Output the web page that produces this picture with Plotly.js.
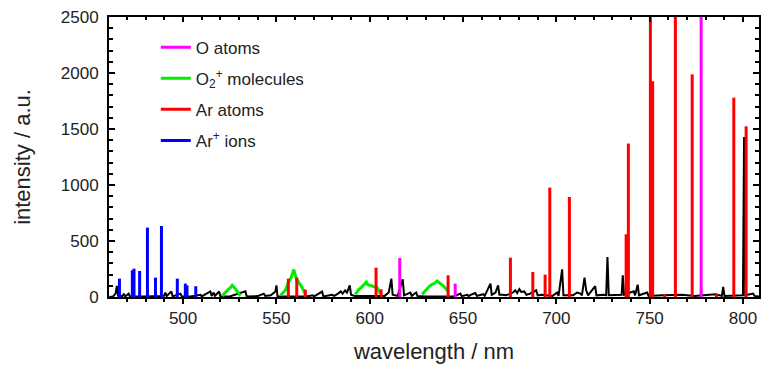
<!DOCTYPE html>
<html><head><meta charset="utf-8">
<script src="https://cdn.plot.ly/plotly-3.0.1.min.js"></script>
<style>html,body{margin:0;padding:0;background:#fff}#chart{width:761px;height:372px}</style>
</head><body><div id="chart"></div>
<script>
// ---- data ----
// Background (unassigned) spectrum, black
const blackX = [460.5,462.5,463.8,464.5,465.2,467.5,468.2,469.0,470.8,471.5,478,486,489.8,490.5,491.2,493.7,494.4,498.6,499.3,504,509.3,510,514.6,515.3,516.4,517.1,519.3,520,525,533.4,534.1,540,541.5,543.2,544,547,549.5,550.0,550.6,566,569.5,570.2,574.5,575.2,579.8,581,583,584.5,585.5,586.8,587.8,589.3,590,592,600,608,610.2,611.6,612.3,615,617.7,618.4,621.8,622.5,624.9,625.6,630,645,648.6,649.3,652.2,653,654.9,656.6,657.4,660.8,661.6,664.7,665.4,667.4,668.8,669.5,670.9,673,676.8,678,679,680.2,681.2,682.8,684,686,689.2,690,692.4,695,698,700.4,701.2,703.1,703.8,709,711.1,712.9,713.7,715.1,716,717,720.8,721.5,724.5,725.4,726.7,727.4,728.1,732,735,735.6,736.3,741.5,742.2,743.6,744.3,748.7,749.4,756.7,762.9,767.4,774,779.9,785.3,788.7,789.4,790.1,795,800.0,800.6,801.2,805.5,806.2,808.6];
const blackY = [0,5,30,100,10,8,30,5,30,5,5,8,10,40,8,50,5,30,5,5,20,5,50,10,40,10,50,5,5,50,5,8,20,30,10,15,50,104,5,5,15,5,48,5,20,10,30,50,30,60,40,104,20,10,10,10,40,164,20,10,158,15,40,10,40,8,5,5,30,8,20,8,25,35,10,25,10,120,20,40,104,20,20,15,40,60,35,70,45,50,20,30,60,15,20,15,10,40,10,247,15,15,40,30,15,173,60,15,98,15,20,20,15,357,15,15,20,194,20,50,15,110,15,40,10,15,20,20,10,20,25,10,90,10,10,15,1429,15,30,10,5];

// O atoms (magenta)
const oAtomWl = [616.1, 645.8, 777.6];
const oAtomI  = [348, 120, 4000];

// O2+ molecular bands (green), segments separated by null
const o2X = [520.9,522.2,523.0,524.4,525.2,526.3,527.2,528.0,528.8,529.3,530.7,null,
             552.3,554.8,556.6,557.9,559.3,560.7,561.9,562.8,563.8,565.5,null,
             592.3,594.1,595.2,596.5,598.2,599.0,600.0,601.0,602.1,603.9,605.7,null,
             628.1,630.8,632.0,633.4,634.5,636.1,637.9,638.6,639.7,642.3];
const o2Y = [10,35,50,70,80,104,90,75,60,45,10,null,
             15,60,134,173,245,164,134,110,84,24,null,
             24,66,80,104,134,110,104,100,96,84,30,null,
             24,75,95,113,120,143,120,115,96,45];

// Ar atoms (red)
const arAtomWl = [556.4,560.9,565.5,603.4,606.1,642.0,675.4,687.4,694.0,696.5,707.0,737.4,738.6,750.4,751.6,758.1,763.8,772.8,785.8,795.1,801.7];
const arAtomI  = [164,173,66,262,69,194,351,223,200,977,893,560,1370,5000,1926,25,4500,1988,25,1780,1524];

// Ar+ ions (blue)
const arIonWl = [465.9,472.8,473.7,476.7,480.9,485.2,488.4,496.9,501.2,502.1,506.8];
const arIonI  = [164,238,253,232,620,173,634,164,120,104,96];

const legendNames = ['O atoms','O<sub>2</sub><sup>+</sup> molecules','Ar atoms','Ar<sup>+</sup> ions'];

// ---- build stick traces ----
function sticks(wl, inten){
  const x=[], y=[];
  for(let i=0;i<wl.length;i++){ x.push(wl[i],wl[i],null); y.push(0,inten[i],null); }
  return {x, y};
}
const sO = sticks(oAtomWl,oAtomI), sAr = sticks(arAtomWl,arAtomI), sArI = sticks(arIonWl,arIonI);

const XR = [460.3, 808.6];
const FONT = 'Liberation Sans, Arial, sans-serif';

const traces = [
  {x:blackX, y:blackY, mode:'lines', line:{color:'#000', width:2}, showlegend:false, hoverinfo:'skip'},
  {x:o2X, y:o2Y, mode:'lines', name:legendNames[1], legendgroup:'g2', legendrank:2, line:{color:'#00ee00', width:3}, connectgaps:false},
  {x:sArI.x, y:sArI.y, mode:'lines', name:legendNames[3], legendgroup:'g4', legendrank:4, line:{color:'#0000ff', width:3}},
  {x:sAr.x, y:sAr.y, mode:'lines', name:legendNames[2], legendgroup:'g3', legendrank:3, line:{color:'#ff0000', width:3}},
  {x:sO.x, y:sO.y, mode:'lines', name:legendNames[0], legendgroup:'g1', legendrank:1, line:{color:'#ff00ff', width:3}},
  {x:[null], y:[null], xaxis:'x2', mode:'lines', showlegend:false, hoverinfo:'skip'}
];

const layout = {
  width:761, height:372,
  margin:{l:109, r:2, t:17, b:75},
  paper_bgcolor:'#fff', plot_bgcolor:'#fff',
  font:{family:FONT, size:17, color:'#222'},
  showlegend:true,
  legend:{x:0.072, y:0.955, xanchor:'left', yanchor:'top', bgcolor:'rgba(0,0,0,0)',
          font:{family:FONT, size:17, color:'#222'}, tracegroupgap:6, traceorder:'grouped'},
  xaxis:{range:XR, showline:true, linewidth:2, linecolor:'#000', mirror:false,
         ticks:'outside', ticklen:5, tickwidth:2, tickcolor:'#000', dtick:50, tick0:500,
         minor:{dtick:10, ticklen:3, tickwidth:2, tickcolor:'#000', ticks:'outside'},
         showgrid:false, zeroline:false, tickfont:{family:FONT,size:17,color:'#222'},
         title:{text:'wavelength / nm', font:{family:FONT,size:22,color:'#222'}, standoff:16}},
  xaxis2:{range:XR, overlaying:'x', side:'top', showline:true, linewidth:2, linecolor:'#000',
          ticks:'inside', ticklen:5, tickwidth:2, tickcolor:'#000', dtick:50, tick0:500,
          minor:{dtick:10, ticklen:3, tickwidth:2, tickcolor:'#000', ticks:'inside'},
          showticklabels:false, showgrid:false, zeroline:false},
  yaxis:{range:[0,2500], showline:true, linewidth:2, linecolor:'#000', mirror:'ticks',
         ticks:'inside', ticklen:6, tickwidth:2, tickcolor:'#000', dtick:500,
         minor:{dtick:100, ticklen:4, tickwidth:2, tickcolor:'#000', ticks:'inside'},
         showgrid:false, zeroline:false, ticklabelstandoff:5,
         tickfont:{family:FONT,size:17,color:'#222'},
         title:{text:'intensity / a.u.', font:{family:FONT,size:22,color:'#222'}, standoff:24}}
};

Plotly.newPlot('chart', traces, layout, {displayModeBar:false, staticPlot:true});
</script></body></html>
